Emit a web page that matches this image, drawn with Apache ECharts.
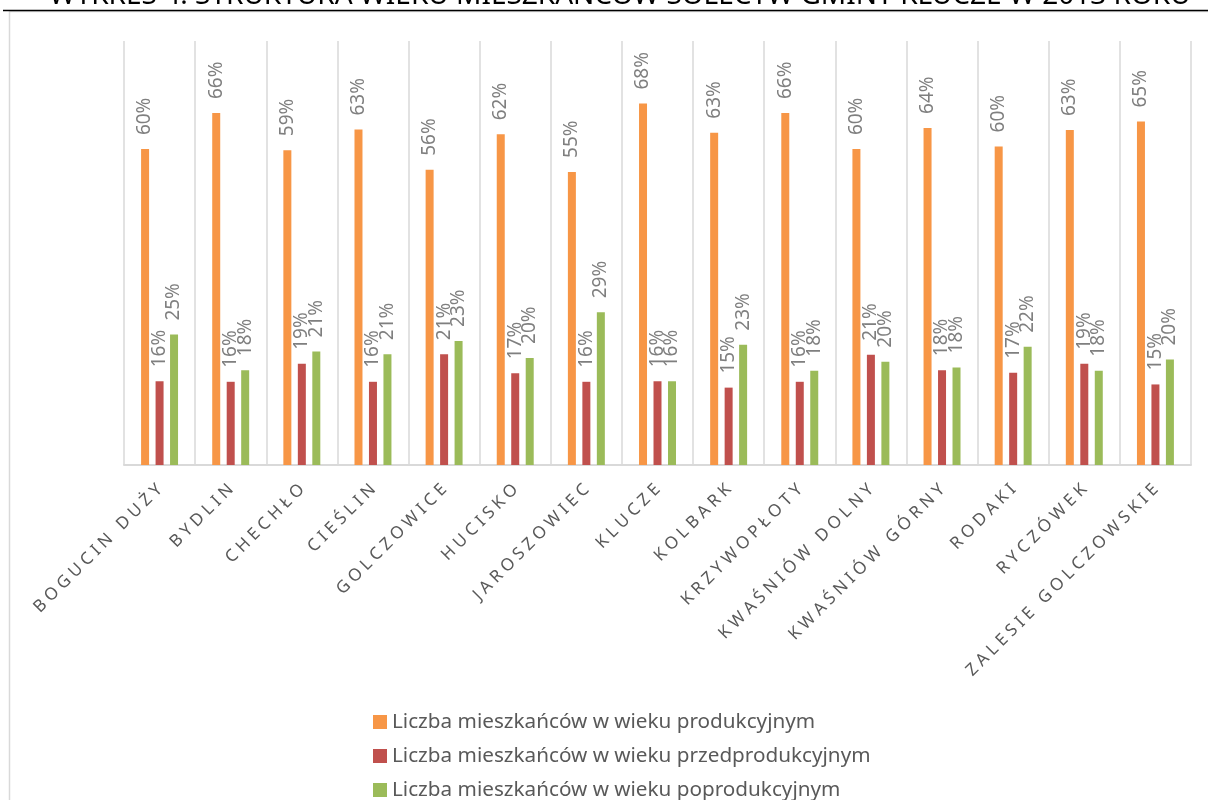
<!DOCTYPE html>
<html>
<head>
<meta charset="utf-8">
<script src="https://cdn.jsdelivr.net/npm/echarts@6/dist/echarts.min.js"></script>
<style>
html,body{margin:0;padding:0;background:#fff;}
#chart{width:1208px;height:800px;}
</style>
</head>
<body>
<div id="chart"></div>
<script>
const titleText = 'WYKRES 4. STRUKTURA WIEKU MIESZKAŃCÓW SOŁECTW GMINY KLUCZE W 2013 ROKU';
const categories = ['BOGUCIN DUŻY','BYDLIN','CHECHŁO','CIEŚLIN','GOLCZOWICE','HUCISKO','JAROSZOWIEC','KLUCZE','KOLBARK','KRZYWOPŁOTY','KWAŚNIÓW DOLNY','KWAŚNIÓW GÓRNY','RODAKI','RYCZÓWEK','ZALESIE GOLCZOWSKIE'];
const seriesNames = ['Liczba mieszkańców w wieku produkcyjnym','Liczba mieszkańców w wieku przedprodukcyjnym','Liczba mieszkańców w wieku poprodukcyjnym'];
const produkcyjny = [59.6,66.4,59.4,63.3,55.7,62.4,55.3,68.2,62.7,66.4,59.6,63.6,60.1,63.2,64.8];
const przedprodukcyjny = [15.8,15.7,19.1,15.7,20.9,17.3,15.7,15.8,14.6,15.7,20.8,17.9,17.4,19.1,15.2];
const poprodukcyjny = [24.6,17.9,21.4,20.9,23.4,20.2,28.8,15.8,22.7,17.8,19.5,18.4,22.3,17.8,19.9];
const colors = ['#F79646','#C0504D','#9BBB59'];

const chart = echarts.init(document.getElementById('chart'));
const FONT = 'Noto Sans';
function mkSeries(name, data, color){
  return {
    name: name, type: 'bar', data: data, barWidth: 8, barGap: '81%',
    itemStyle: {color: color},
    label: {
      show: true, position: 'top', rotate: 90, align: 'left', verticalAlign: 'middle',
      distance: 14, color: '#7f7f7f', fontSize: 19, fontFamily: FONT,
      formatter: p => Math.round(p.value) + '%'
    }
  };
}
chart.setOption({
  animation: false,
  textStyle: {fontFamily: FONT},
  grid: {left: 124, right: 17, top: 41, bottom: 335, containLabel: false},
  xAxis: {
    type: 'category', data: categories, boundaryGap: true,
    axisLine: {lineStyle: {color: '#d9d9d9', width: 2}},
    axisTick: {show: false},
    splitLine: {show: true, interval: 0, lineStyle: {color: '#d9d9d9', width: 1.5}},
    axisLabel: {
      interval: 0, rotate: 45, margin: 22, color: '#595959', fontSize: 17, fontFamily: FONT,
      formatter: v => Array.from(v).join('\u2005')
    }
  },
  yAxis: {type: 'value', min: 0, max: 80, show: false, splitLine: {show: false}},
  legend: {
    orient: 'vertical', left: 373, top: 710, height: 200, padding: 0,
    itemWidth: 14, itemHeight: 14, itemGap: 10,
    icon: 'rect',
    textStyle: {color: '#595959', fontSize: 20.7, fontFamily: FONT, lineHeight: 24},
    data: seriesNames
  },
  graphic: [
    {type: 'rect', shape: {x: 9.5, y: 11.5, width: 1400, height: 1000}, style: {fill: 'none', stroke: '#d9d9d9', lineWidth: 1.5}, silent: true, z: -10},
    {type: 'line', shape: {x1: 3, y1: 10.5, x2: 1208, y2: 10.5}, style: {stroke: '#000', lineWidth: 1.5}, silent: true},
    {type: 'text', x: 620, y: -4.2, style: {text: titleText, font: '28px "Noto Sans"', fill: '#000', textAlign: 'center', textVerticalAlign: 'middle'}, silent: true}
  ],
  series: [
    mkSeries(seriesNames[0], produkcyjny, colors[0]),
    mkSeries(seriesNames[1], przedprodukcyjny, colors[1]),
    mkSeries(seriesNames[2], poprodukcyjny, colors[2])
  ]
});
</script>
</body>
</html>
